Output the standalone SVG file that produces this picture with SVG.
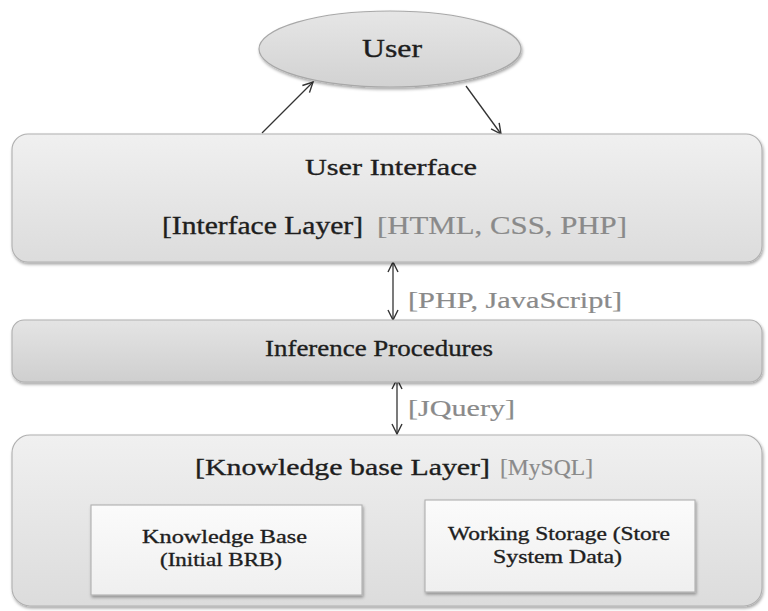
<svg xmlns="http://www.w3.org/2000/svg" width="768" height="611" viewBox="0 0 768 611">
<defs>
<linearGradient id="gBox" x1="0" y1="0" x2="0" y2="1">
<stop offset="0" stop-color="#f0f0f0"/>
<stop offset="1" stop-color="#dcdcdc"/>
</linearGradient>
<linearGradient id="gMid" x1="0" y1="0" x2="0" y2="1">
<stop offset="0" stop-color="#e4e4e4"/>
<stop offset="1" stop-color="#cfcfcf"/>
</linearGradient>
<linearGradient id="gEll" x1="0" y1="0" x2="0" y2="1">
<stop offset="0" stop-color="#e6e6e6"/>
<stop offset="1" stop-color="#d2d2d2"/>
</linearGradient>
<linearGradient id="gInner" x1="0" y1="0" x2="0" y2="1">
<stop offset="0" stop-color="#fbfbfb"/>
<stop offset="1" stop-color="#efefef"/>
</linearGradient>
<filter id="sh" x="-5%" y="-10%" width="110%" height="125%">
<feDropShadow dx="1" dy="2" stdDeviation="1.5" flood-color="#000" flood-opacity="0.35"/>
</filter>
<marker id="ah" viewBox="0 0 12 12" refX="11" refY="6" markerWidth="12" markerHeight="12" markerUnits="userSpaceOnUse" orient="auto-start-reverse">
<path d="M1,1 L11,6 L1,11" fill="none" stroke="#333" stroke-width="1.4"/>
</marker>
</defs>
<style>
.box{stroke:#b0b0b0;stroke-width:1.1;filter:url(#sh)}
.t{font-family:"Liberation Serif","Times New Roman",serif;fill:#1e1e1e;stroke:#1e1e1e;stroke-width:0.35}
.g{font-family:"Liberation Serif","Times New Roman",serif;fill:#8a8a8a;stroke:#8a8a8a;stroke-width:0.2}
.ln{stroke:#333;stroke-width:1.3;fill:none}
</style>
<rect width="768" height="611" fill="#ffffff"/>

<g id="connectors">
<line class="ln" x1="262" y1="133" x2="313" y2="82" marker-end="url(#ah)"/>
<line class="ln" x1="466" y1="86" x2="501" y2="134" marker-end="url(#ah)"/>
<line class="ln" x1="393" y1="262" x2="393" y2="320" marker-start="url(#ah)" marker-end="url(#ah)"/>
<line class="ln" x1="397" y1="379" x2="397" y2="434" marker-start="url(#ah)" marker-end="url(#ah)"/>
<text class="g" x="408" y="308" font-size="23" textLength="214" lengthAdjust="spacingAndGlyphs">[PHP, JavaScript]</text>
<text class="g" x="408" y="416" font-size="23" textLength="107" lengthAdjust="spacingAndGlyphs">[JQuery]</text>
</g>

<g id="user">
<ellipse cx="390" cy="49" rx="131" ry="38" fill="url(#gEll)" stroke="#a8a8a8" stroke-width="1.2" filter="url(#sh)"/>
<text class="t" x="362" y="57" font-size="25" textLength="60" lengthAdjust="spacingAndGlyphs">User</text>
</g>

<g id="interface">
<rect class="box" x="12" y="134" width="750" height="128" rx="16" fill="url(#gBox)"/>
<text class="t" x="305" y="175" font-size="24" textLength="172" lengthAdjust="spacingAndGlyphs">User Interface</text>
<text class="t" x="162" y="234" font-size="25" textLength="201" lengthAdjust="spacingAndGlyphs">[Interface Layer]</text>
<text class="g" x="377" y="234" font-size="25" textLength="250" lengthAdjust="spacingAndGlyphs">[HTML, CSS, PHP]</text>
</g>

<g id="inference">
<rect class="box" x="12" y="320" width="750" height="62" rx="12" fill="url(#gMid)"/>
<text class="t" x="265" y="356" font-size="24" textLength="228" lengthAdjust="spacingAndGlyphs">Inference Procedures</text>
</g>

<g id="knowledge-layer">
<rect class="box" x="12" y="435" width="750" height="171" rx="18" fill="url(#gBox)"/>
<text class="t" x="195" y="475" font-size="24" textLength="295" lengthAdjust="spacingAndGlyphs">[Knowledge base Layer]</text>
<text class="g" x="500" y="475" font-size="24" textLength="93" lengthAdjust="spacingAndGlyphs">[MySQL]</text>
</g>

<g id="knowledge-base">
<rect class="box" x="91" y="505" width="271" height="90" fill="url(#gInner)"/>
<text class="t" x="142" y="543" font-size="19" textLength="165" lengthAdjust="spacingAndGlyphs">Knowledge Base</text>
<text class="t" x="160" y="566" font-size="19" textLength="122" lengthAdjust="spacingAndGlyphs">(Initial BRB)</text>
</g>

<g id="working-storage">
<rect class="box" x="425" y="500" width="270" height="92" fill="url(#gInner)"/>
<text class="t" x="448" y="540" font-size="19" textLength="222" lengthAdjust="spacingAndGlyphs">Working Storage (Store</text>
<text class="t" x="493" y="563" font-size="19" textLength="129" lengthAdjust="spacingAndGlyphs">System Data)</text>
</g>
</svg>
